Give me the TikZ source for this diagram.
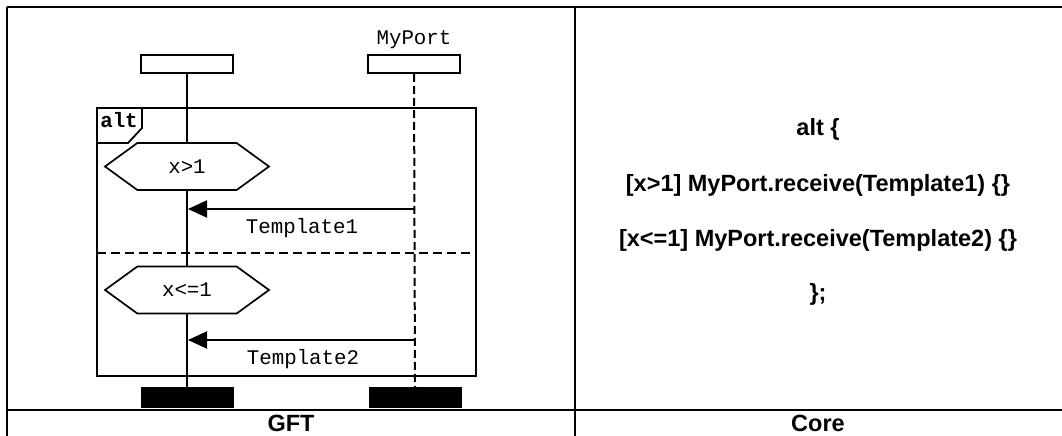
\documentclass[tikz,border=0pt]{standalone}
\usepackage{fontspec}
\setmainfont{Liberation Sans}
\setmonofont{Liberation Mono}
\usetikzlibrary{arrows.meta, positioning, shapes.symbols}
\newcommand{\msctext}{\fontsize{20.8}{24}\selectfont\ttfamily}
\newcommand{\coretext}{\fontsize{23.5}{28}\selectfont\bfseries}

\begin{document}
\begin{tikzpicture}[
      x=1pt, y=-1pt,
      grid/.style={line width=2.4pt},
      instance/.style={
        draw,
        line width=1.8pt,
        minimum width=92pt,
        minimum height=18pt,
        inner sep=0pt
      },
      instend/.style={fill=black, minimum width=93pt, minimum height=21pt, inner sep=0pt},
      lifeline/.style={line width=2pt},
      portline/.style={line width=2pt, dash pattern=on 8pt off 4pt},
      guard/.style={
        draw,
        fill=white,
        shape=signal,
        signal to=west and east,
        signal pointer angle=72,
        minimum width=164pt,
        minimum height=47pt,
        inner sep=0pt,
        line width=1.7pt,
        font=\msctext
      },
      msg/.style={line width=2pt, -{Triangle[length=19pt, width=17pt]}},
      msclabel/.style={font=\msctext, anchor=base, inner sep=0pt},
      corelabel/.style={font=\coretext, anchor=base, inner sep=0pt}
    ]
    \useasboundingbox (0,0) rectangle (1062,436);

    % table
    \draw[grid] (7,7) -- (1062,7);
    \draw[grid] (7,410) -- (1062,410);
    \draw[grid] (7,7) -- (7,436);
    \draw[grid] (575,7) -- (575,436);

    % instances
    \node[instance] (comp) at (187,64) {};
    \node[instance] (port) at (414,64) {};
    \node[msclabel] (portname) at (414,45) {MyPort};
    \node[instend] (compend) at (187,397.5) {};
    \node[instend] (portend) at (415,397.5) {};

    \draw[lifeline] (comp.south) -- (compend.north);
    \draw[portline] (port.south) -- (portend.north);

    % alt frame
    \draw[line width=2pt] (97,108) rectangle (476,376);
    \draw[line width=1.8pt] (142,108) -- (142,128) -- (128,143) -- (97,143);
    \node[font=\msctext\bfseries, anchor=base, inner sep=0pt] (altname) at (119,127) {alt};
    \draw[line width=2pt, dash pattern=on 9pt off 5pt] (97,253) -- (476,253);

    % guards
    \node[guard] (guard1) at (187,166.5) {x>1};
    \node[guard] (guard2) at (187,290) {x<=1};

    % messages
    \coordinate (send1) at (415,209);
    \coordinate (recv1) at (188,209);
    \coordinate (send2) at (415,340);
    \coordinate (recv2) at (188,340);
    \draw[msg] (send1) -- (recv1);
    \draw[msg] (send2) -- (recv2);
    \node[msclabel] (tmpl1) at (302,233) {Template1};
    \node[msclabel] (tmpl2) at (303,364) {Template2};

    % core text
    \node[corelabel] (coreA) at (818,135) {alt \{};
    \node[corelabel] (coreB) at (818,191) {[x>1] MyPort.receive(Template1) \{\}};
    \node[corelabel] (coreC) at (818,246) {[x<=1] MyPort.receive(Template2) \{\}};
    \node[corelabel] (coreD) at (818,300) {\};};

    \node[corelabel] (gft) at (291,431) {GFT};
    \node[corelabel] (core) at (818,431) {Core};
  \end{tikzpicture}
\end{document}
